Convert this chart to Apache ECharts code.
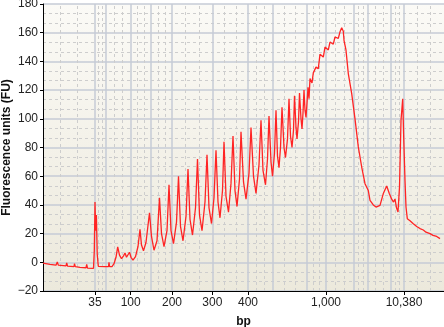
<!DOCTYPE html>
<html>
<head>
<meta charset="utf-8">
<script src="https://cdn.jsdelivr.net/npm/echarts@6/dist/echarts.min.js"></script>
<style>
html,body{margin:0;padding:0;background:#fff;}
#chart{width:444px;height:327px;}
</style>
</head>
<body>
<div id="chart"></div>
<script>
// Migration time (arbitrary scan units) and fluorescence (FU)
const timePoints = [
  0, 7, 13, 14.3, 15.3, 23, 23.7, 24.5, 31, 31.5, 32.3, 37, 43, 43.7, 44.5, 50.5, 51.3, 52, 52.7, 53.4, 54.2, 55.3,
  62, 65.5, 66, 66.6, 69, 71, 73, 74.7, 76.5, 78.5, 80.5, 82, 83.5, 84.5, 86.5, 88, 90, 92.5, 95, 97, 98.5, 100.5,
  103, 106.5, 108.5, 111, 114, 116.5, 118.5, 121, 124, 126, 128, 130.5, 133.5, 135.5, 137.5, 140, 143, 145, 147,
  149.5, 152.5, 154.5, 156.5, 159, 162, 164, 166, 168.5, 171, 173, 175, 177, 179.5, 181, 183, 185.5, 188, 190, 192,
  194, 196.5, 198, 200.5, 203, 206, 208, 210.5, 213, 216, 218, 220, 222.5, 224.5, 226, 228, 229.5, 231.5, 233, 234.5,
  236, 237.5, 239, 241, 242.5, 244.5, 246, 247.5, 249, 250.5, 251.5, 253, 254, 255.5, 256.5, 258, 259, 260, 261, 262,
  263, 264, 265, 266, 267, 269, 270.3, 273, 275.3, 277, 280.3, 282, 285.3, 287, 290.3, 292, 295.3, 297, 298.7, 300.3,
  301, 303, 305.3, 308.7, 312, 315.3, 318.7, 322, 325.3, 327, 330.3, 333, 337, 340.3, 343.7, 346.3, 348.7, 350.5, 352,
  353.5, 355, 356.5, 358, 359.7, 360.7, 362, 363, 364.3, 367, 370, 373.7, 377, 380.3, 383, 387, 390, 393.7, 397, 401
];
const fluorescence = [
  -0.5, -1.5, -2, 0.2, -2, -2.5, -0.5, -2.6, -3, -1, -3, -3.5, -3.8, -1.4, -4, -4.2, 8, 42, 22, 33, 6, -2.8,
  -3, -3, 0, -3, -3, -1, 3.5, 10.7, 5, 2.5, 4.5, 6.5, 3.5, 2.5, 7, 3.5, 1.5, 4, 11, 23, 12, 8,
  14, 34.5, 18, 8.4, 15, 45, 20, 11, 22, 54, 22, 13, 28, 60, 25, 15, 32, 65, 30,
  19, 38, 72, 33, 22, 42, 75, 38, 27, 45, 78, 42, 31, 50, 84, 46, 35, 55, 88, 50,
  39, 58, 91, 56, 44, 62, 94, 60, 48, 68, 99, 64, 54, 72, 102, 70, 60, 76, 106,
  74, 66, 80, 108, 80, 73, 86, 114, 88, 80, 92, 116, 94, 86, 98, 118, 100, 93, 104, 120,
  106, 101, 111, 122, 114, 128, 125, 132, 136, 135, 145, 143, 150, 148, 153.5, 152, 157, 156, 160.6, 163.5,
  161, 154.7, 147.8, 131.5, 117.6, 100, 80.4, 66.4, 54.8, 50, 43.2, 40, 38.5, 39.7, 47.9, 53.2, 47.9, 44, 42,
  44, 38, 35, 52.5, 99, 114, 87, 57, 38.5, 30.4, 29, 27, 25, 23.5, 22.5, 21, 20, 18.8, 18, 16.5
];
// Ladder fragment sizes (bp) and their migration times (same units as timePoints)
const ladderBp   = [35, 50, 100, 150, 200, 300, 400, 500, 700, 1000, 2000, 3000, 7000, 10380];
const ladderTime = [52, 63, 87.7, 108, 129, 169.3, 205, 229.7, 264, 283, 310.5, 325, 347.5, 361];
// Tick labels shown on the bp axis
const labeledBp  = [35, 100, 200, 300, 400, 1000, 10380];
const yTicks = [-20, 0, 20, 40, 60, 80, 100, 120, 140, 160, 180];

const X_MIN = 0, X_MAX = 401;
const labelTimes = labeledBp.map(b => ladderTime[ladderBp.indexOf(b)]);

// minor (dashed) vertical gridlines: thirds between ladder gridlines
const bounds = [X_MIN].concat(ladderTime, [X_MAX]);
const minorTimes = [];
for (let i = 0; i < bounds.length - 1; i++) {
  const a = bounds[i], b = bounds[i + 1];
  minorTimes.push(a + (b - a) / 3, a + 2 * (b - a) / 3);
}

const fmtBp = v => {
  let best = 0, d = Infinity;
  labelTimes.forEach((t, i) => { if (Math.abs(t - v) < d) { d = Math.abs(t - v); best = i; } });
  return labeledBp[best].toLocaleString('en-US');
};

const chart = echarts.init(document.getElementById('chart'), null, {renderer: 'canvas'});
const FONT = '"Liberation Sans", Arial, Helvetica, sans-serif';
chart.setOption({
  animation: false,
  grid: {
    left: 43, right: 0, top: 4, bottom: 36,
    containLabel: false, outerBoundsMode: 'none',
    show: true, borderWidth: 0,
    backgroundColor: new echarts.graphic.LinearGradient(0, 0, 0, 1, [
      {offset: 0, color: '#fbfaf6'},
      {offset: 1, color: '#ece9dc'}
    ])
  },
  xAxis: {
    type: 'value', min: X_MIN, max: X_MAX,
    name: 'bp', nameLocation: 'middle', nameGap: 25, nameMoveOverlap: false,
    nameTextStyle: {fontFamily: FONT, fontWeight: 'bold', fontSize: 12, color: '#111'},
    axisLine: {show: true, onZero: false, lineStyle: {color: '#000', width: 1}},
    axisTick: {show: true, length: 4, customValues: labelTimes, lineStyle: {color: '#000'}},
    axisLabel: {customValues: labelTimes, formatter: fmtBp, margin: 6,
      fontFamily: FONT, fontSize: 12, color: '#222'},
    splitLine: {show: false}
  },
  yAxis: {
    type: 'value', min: yTicks[0], max: yTicks[yTicks.length - 1], interval: 20,
    name: 'Fluorescence units (FU)', nameLocation: 'middle', nameGap: 30, nameMoveOverlap: false,
    nameTextStyle: {fontFamily: FONT, fontWeight: 'bold', fontSize: 12, color: '#111'},
    axisLine: {show: true, lineStyle: {color: '#000', width: 1}},
    axisTick: {show: true, length: 3, lineStyle: {color: '#000'}},
    axisLabel: {margin: 5, fontFamily: FONT, fontSize: 12, color: '#222',
      formatter: v => String(v).replace('-', '\u2212')},
    splitLine: {show: true, lineStyle: {color: '#c6cbd6', width: 1.5}},
    minorTick: {show: false, splitNumber: 3},
    minorSplitLine: {show: true, lineStyle: {color: '#cdcdcd', width: 1, type: [3, 3]}}
  },
  series: [
    {
      type: 'line', data: [], z: 1, silent: true,
      markLine: {
        silent: true, symbol: ['none', 'none'], label: {show: false}, animation: false,
        lineStyle: {color: '#cdcdcd', width: 1, type: [3, 3]},
        data: minorTimes.map(t => ({xAxis: t}))
      }
    },
    {
      type: 'line', data: [], z: 1, silent: true,
      markLine: {
        silent: true, symbol: ['none', 'none'], label: {show: false}, animation: false,
        lineStyle: {color: '#c6cbd6', width: 1.5, type: 'solid'},
        data: ladderTime.map(t => ({xAxis: t}))
      }
    },
    {
      type: 'line', z: 5, showSymbol: false, symbol: 'none',
      data: timePoints.map((t, i) => [t, fluorescence[i]]),
      lineStyle: {color: '#ff2424', width: 1.3},
      emphasis: {disabled: true}
    }
  ]
});
</script>
</body>
</html>
